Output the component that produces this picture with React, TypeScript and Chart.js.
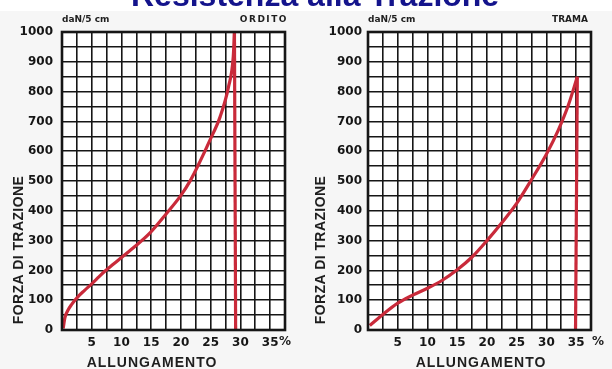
import { useEffect, useRef } from "react";
import { Chart, registerables } from "chart.js";

Chart.register(...registerables);

// Warp (ORDITO) tensile curve: elongation % vs force daN/5 cm
const ORDITO_X = [0.2, 0.5, 1.0, 1.6, 2.7, 3.8, 5.0, 6.2, 7.2, 8.4, 9.5, 12.0, 14.8, 17.6, 20.0, 21.6, 23.2, 24.9, 26.6, 28.0, 28.8, 29.0];
const ORDITO_Y = [5, 42, 66, 85, 112, 133, 155, 178, 197, 217, 235, 276, 326, 392, 452, 502, 565, 638, 716, 816, 917, 1000];
const ORDITO_BREAK_X = [29.0, 29.2];
const ORDITO_BREAK_Y = [1000, 0];

// Weft (TRAMA) tensile curve
const TRAMA_X = [0.3, 2.5, 5.0, 7.5, 10.0, 12.5, 15.0, 17.5, 20.0, 22.5, 25.0, 27.5, 30.0, 32.0, 33.7, 35.2];
const TRAMA_Y = [15, 52, 90, 117, 140, 167, 202, 245, 300, 360, 425, 505, 590, 671, 755, 850];
const TRAMA_BREAK_X = [35.2, 34.9];
const TRAMA_BREAK_Y = [850, 0];

const X_LABELS = [5, 10, 15, 20, 25, 30, 35];
const Y_LABELS = [0, 100, 200, 300, 400, 500, 600, 700, 800, 900, 1000];

const X_MAX = 37.5;
const Y_MAX = 1000;

const RED = "#c92a3a";
const INK = "#161616";

type PanelCfg = {
  name: string;
  xs: number[];
  ys: number[];
  bx: number[];
  by: number[];
  yPad: number;
  nameX: number;
  nameSpacing: number;
  yTitleX: number;
  xTitleX: number;
  pctX: number;
};

function toPts(xs: number[], ys: number[]) {
  return xs.map((x, i) => ({ x, y: ys[i] }));
}

function makeDecor(cfg: PanelCfg) {
  return {
    id: "decor",
    beforeDraw(chart: any) {
      const { ctx, chartArea: a } = chart;
      ctx.save();
      ctx.fillStyle = "#ffffff";
      ctx.fillRect(a.left, a.top, a.right - a.left, a.bottom - a.top);
      ctx.restore();
    },
    afterDraw(chart: any) {
      const { ctx, chartArea: a } = chart;
      ctx.save();
      ctx.strokeStyle = INK;
      ctx.lineWidth = 2.6;
      ctx.strokeRect(a.left, a.top, a.right - a.left, a.bottom - a.top);

      ctx.fillStyle = "#1e1e1e";
      ctx.textBaseline = "middle";
      ctx.font = "bold 9px 'DejaVu Sans'";
      ctx.textAlign = "left";
      ctx.fillText("daN/5 cm", a.left, 20);
      ctx.letterSpacing = cfg.nameSpacing + "px";
      ctx.textAlign = "right";
      ctx.fillText(cfg.name, cfg.nameX, 20);
      ctx.letterSpacing = "0px";

      ctx.font = "bold 12px 'DejaVu Sans'";
      ctx.textAlign = "center";
      ctx.fillText("%", cfg.pctX, 342);

      ctx.font = "bold 14px 'Liberation Sans'";
      ctx.letterSpacing = "1px";
      ctx.fillText("ALLUNGAMENTO", cfg.xTitleX, 363);
      ctx.letterSpacing = "0.4px";
      ctx.translate(cfg.yTitleX, 250);
      ctx.rotate(-Math.PI / 2);
      ctx.fillText("FORZA DI TRAZIONE", 0, 0);
      ctx.restore();
    },
  };
}

function Panel({ cfg }: { cfg: PanelCfg }) {
  const ref = useRef<HTMLCanvasElement | null>(null);
  useEffect(() => {
    if (!ref.current) return;
    const chart = new Chart(ref.current, {
      type: "line",
      data: {
        datasets: [
          {
            data: toPts(cfg.xs, cfg.ys),
            borderColor: RED,
            borderWidth: 3.2,
            pointRadius: 0,
            cubicInterpolationMode: "monotone",
          },
          {
            data: toPts(cfg.bx, cfg.by),
            borderColor: RED,
            borderWidth: 3.2,
            pointRadius: 0,
          },
        ],
      },
      options: {
        responsive: false,
        animation: false,
        events: [],
        layout: { padding: { left: 0, top: 32, right: 21, bottom: 19 } },
        plugins: { legend: { display: false }, tooltip: { enabled: false } },
        scales: {
          x: {
            type: "linear",
            min: 0,
            max: X_MAX,
            afterFit: (s: any) => {
              s.height = 20;
            },
            border: { display: false },
            grid: { color: INK, lineWidth: 1.6, drawTicks: false },
            ticks: {
              stepSize: 2.5,
              autoSkip: false,
              maxRotation: 0,
              padding: 6,
              color: INK,
              font: { family: "'DejaVu Sans'", size: 12, weight: "bold" },
              callback: (v: any) => (X_LABELS.includes(Number(v)) ? String(v) : ""),
            },
          },
          y: {
            type: "linear",
            min: 0,
            max: Y_MAX,
            afterFit: (s: any) => {
              s.width = 62;
            },
            border: { display: false },
            grid: { color: INK, lineWidth: 1.6, drawTicks: false },
            ticks: {
              stepSize: 50,
              autoSkip: false,
              padding: cfg.yPad,
              color: INK,
              font: { family: "'DejaVu Sans'", size: 12, weight: "bold" },
              callback: (v: any) => (Y_LABELS.includes(Number(v)) ? String(v) : ""),
            },
          },
        },
      },
      plugins: [makeDecor(cfg)],
    } as any);
    return () => chart.destroy();
  }, [cfg]);
  return <canvas ref={ref} width={306} height={369} style={{ display: "block" }} />;
}

const LEFT: PanelCfg = {
  name: "ORDITO",
  xs: ORDITO_X,
  ys: ORDITO_Y,
  bx: ORDITO_BREAK_X,
  by: ORDITO_BREAK_Y,
  yPad: 9,
  nameX: 288,
  nameSpacing: 1.5,
  yTitleX: 19,
  xTitleX: 152,
  pctX: 285,
};

const RIGHT: PanelCfg = {
  name: "TRAMA",
  xs: TRAMA_X,
  ys: TRAMA_Y,
  bx: TRAMA_BREAK_X,
  by: TRAMA_BREAK_Y,
  yPad: 6,
  nameX: 282,
  nameSpacing: 0,
  yTitleX: 15,
  xTitleX: 175,
  pctX: 292,
};

export default function App() {
  return (
    <div
      style={{
        position: "fixed",
        left: 0,
        top: 0,
        width: 612,
        height: 369,
        overflow: "hidden",
        background: "#ffffff",
      }}
    >
      <div style={{ position: "absolute", left: 0, top: 11, width: 612, height: 358, background: "#f6f6f6" }} />
      <div style={{ position: "absolute", left: 0, top: 0, display: "flex" }}>
        <Panel cfg={LEFT} />
        <Panel cfg={RIGHT} />
      </div>
      <div
        style={{
          position: "absolute",
          left: 131,
          top: -21.5,
          fontFamily: "'Liberation Sans', Arial, sans-serif",
          fontWeight: "bold",
          fontSize: 32,
          lineHeight: "32px",
          color: "#14148c",
          whiteSpace: "nowrap",
        }}
      >
        Resistenza alla Trazione
      </div>
    </div>
  );
}
